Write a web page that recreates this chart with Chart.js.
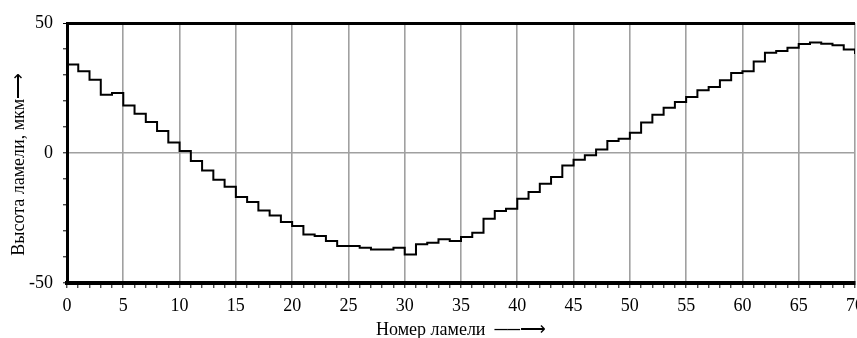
<!DOCTYPE html>
<html>
<head>
<meta charset="utf-8">
<script src="https://cdn.jsdelivr.net/npm/chart.js@4.4.0/dist/chart.umd.min.js"></script>
<style>
    html, body { margin: 0; padding: 0; background: #fff; }
    #wrap { width: 857px; height: 338px; }
</style>
</head>
<body>
<div id="wrap"><canvas id="chart"></canvas></div>
<script>
var lamellae = [0, 1, 2, 3, 4, 5, 6, 7, 8, 9, 10, 11, 12, 13, 14, 15, 16, 17, 18, 19,
    20, 21, 22, 23, 24, 25, 26, 27, 28, 29, 30, 31, 32, 33, 34, 35, 36, 37, 38, 39,
    40, 41, 42, 43, 44, 45, 46, 47, 48, 49, 50, 51, 52, 53, 54, 55, 56, 57, 58, 59,
    60, 61, 62, 63, 64, 65, 66, 67, 68, 69, 70];
var heights = [34.0, 31.4, 28.2, 22.4, 23.1, 18.3, 15.1, 11.9, 8.5, 4.0,
    0.8, -3.1, -6.7, -10.3, -13.0, -16.9, -18.8, -22.1, -24.0, -26.5,
    -28.1, -31.3, -31.9, -33.8, -35.8, -35.8, -36.4, -37.1, -37.1, -36.4,
    -39.0, -35.1, -34.5, -33.2, -33.8, -32.3, -30.7, -25.3, -22.3, -21.4,
    -17.6, -15.0, -11.8, -9.2, -4.8, -2.6, -0.9, 1.3, 4.6, 5.5,
    7.8, 11.7, 14.7, 17.4, 19.6, 21.5, 24.1, 25.4, 28.0, 30.8,
    31.4, 35.2, 38.6, 39.2, 40.5, 41.9, 42.5, 42.0, 41.4, 39.8, 38.1];
var xLabels = [0, 5, 10, 15, 20, 25, 30, 35, 40, 45, 50, 55, 60, 65, 70];
var yLabels = [-50, 0, 50];

var points = lamellae.map(function (n, i) {
    return { x: n, y: heights[i] };
});

var serif = "'Liberation Serif', 'Times New Roman', serif";
var font = { family: serif, size: 18 };
var titleFont = { family: serif, size: 18, lineHeight: 1 };
var gridGray = '#a0a0a0';

new Chart(document.getElementById('chart'), {
    type: 'line',
    data: {
        datasets: [{
            data: points,
            stepped: 'before',
            borderColor: '#000',
            borderWidth: 2,
            pointRadius: 0,
            fill: false
        }]
    },
    options: {
        responsive: true,
        maintainAspectRatio: false,
        animation: false,
        layout: { padding: { top: 23, right: 2, left: 0, bottom: 0 } },
        plugins: { legend: { display: false }, tooltip: { enabled: false } },
        scales: {
            x: {
                type: 'linear',
                min: 0,
                max: 70,
                // let the last label run off the edge like in the original
                afterFit: function (scale) {
                    scale.paddingRight = 0;
                    scale.paddingLeft = 0;
                    scale.height = 55;
                },
                ticks: {
                    stepSize: 1,
                    autoSkip: false,
                    maxRotation: 0,
                    padding: 7,
                    color: '#000',
                    font: font,
                    callback: function (v) { return xLabels.indexOf(v) >= 0 ? String(v) : ''; }
                },
                grid: {
                    color: function (c) { return c.tick && c.tick.value % 5 === 0 ? gridGray : 'transparent'; },
                    lineWidth: 1.6,
                    tickColor: '#000',
                    tickWidth: 1,
                    tickLength: 5
                },
                border: { display: true, color: '#000', width: 4 },
                title: {
                    display: true,
                    text: 'Номер ламели  ──⟶',
                    color: '#000',
                    font: { family: serif, size: 18, lineHeight: 0.9 },
                    padding: { top: 0, bottom: 0 }
                }
            },
            y: {
                min: -50,
                max: 50,
                afterFit: function (scale) { scale.width = 67; },
                ticks: {
                    stepSize: 10,
                    padding: 10,
                    color: '#000',
                    font: font,
                    callback: function (v) { return yLabels.indexOf(v) >= 0 ? String(v) : ''; }
                },
                grid: {
                    color: function (c) {
                        if (!c.tick) return 'transparent';
                        if (c.tick.value === 50) return '#000';
                        if (c.tick.value === 0) return gridGray;
                        return 'transparent';
                    },
                    lineWidth: function (c) { return c.tick && c.tick.value === 50 ? 3 : 1.6; },
                    tickColor: '#000',
                    tickWidth: 1,
                    tickLength: 4
                },
                border: { display: true, color: '#000', width: 3 },
                title: {
                    display: true,
                    text: 'Высота ламели, мкм⟶     ',
                    color: '#000',
                    font: titleFont,
                    padding: { top: 10, bottom: 0 }
                }
            }
        }
    }
});
</script>
</body>
</html>
